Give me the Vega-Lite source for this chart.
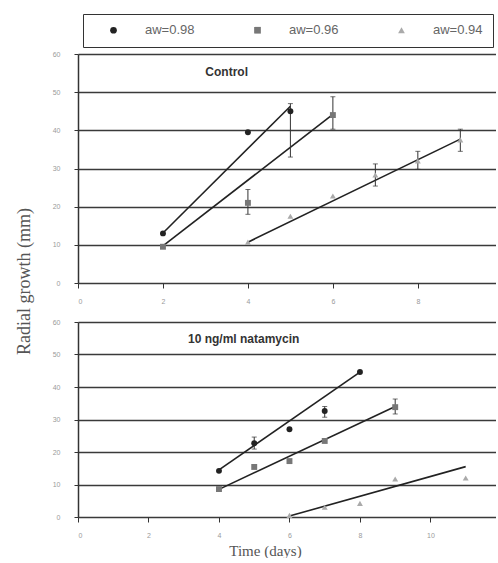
{
  "$schema": "https://vega.github.io/schema/vega-lite/v6.json",
  "padding": {"left": 15, "top": 13, "right": 0, "bottom": 0},
  "background": "white",
  "config": {
    "view": {"stroke": null},
    "font": "Liberation Sans",
    "axis": {
      "labelFontSize": 7,
      "labelColor": "#9a9a9a",
      "tickColor": "#333",
      "domainColor": "#333",
      "domainWidth": 1.5,
      "gridColor": "#3a3a3a",
      "gridWidth": 1.4,
      "gridOpacity": 1,
      "tickCount": 20
    },
    "legend": {
      "orient": "none",
      "legendX": 5,
      "legendY": -40,
      "direction": "horizontal",
      "strokeColor": "#333",
      "padding": 9.5,
      "title": null,
      "symbolSize": 45,
      "symbolOffset": 14.5,
      "labelOffset": 25,
      "labelFontSize": 13,
      "labelColor": "#666",
      "columnPadding": 41
    }
  },
  "datasets": {
    "fits": [
      {"panel": "Control", "aw": "0.98", "day": 2, "val": 13.1},
      {"panel": "Control", "aw": "0.98", "day": 5, "val": 46.3},
      {"panel": "Control", "aw": "0.96", "day": 2, "val": 9.7},
      {"panel": "Control", "aw": "0.96", "day": 6, "val": 44.2},
      {"panel": "Control", "aw": "0.94", "day": 4, "val": 10.7},
      {"panel": "Control", "aw": "0.94", "day": 9, "val": 37.7},
      {"panel": "Natamycin", "aw": "0.98", "day": 4, "val": 14.5},
      {"panel": "Natamycin", "aw": "0.98", "day": 8, "val": 44.6},
      {"panel": "Natamycin", "aw": "0.96", "day": 4, "val": 8.5},
      {"panel": "Natamycin", "aw": "0.96", "day": 9, "val": 34},
      {"panel": "Natamycin", "aw": "0.94", "day": 6, "val": 0.3},
      {"panel": "Natamycin", "aw": "0.94", "day": 11, "val": 15.5}
    ],
    "points": [
      {"panel": "Control", "aw": "0.98", "day": 2, "val": 13},
      {"panel": "Control", "aw": "0.98", "day": 4, "val": 39.5},
      {"panel": "Control", "aw": "0.98", "day": 5, "val": 45, "lo": 33, "hi": 47},
      {"panel": "Control", "aw": "0.96", "day": 2, "val": 9.5},
      {"panel": "Control", "aw": "0.96", "day": 4, "val": 21, "lo": 18, "hi": 24.5},
      {"panel": "Control", "aw": "0.96", "day": 6, "val": 44, "lo": 40.3, "hi": 48.8},
      {"panel": "Control", "aw": "0.94", "day": 4, "val": 10.7},
      {"panel": "Control", "aw": "0.94", "day": 5, "val": 17.5},
      {"panel": "Control", "aw": "0.94", "day": 6, "val": 22.8},
      {"panel": "Control", "aw": "0.94", "day": 7, "val": 28.3, "lo": 25.4, "hi": 31.2},
      {"panel": "Control", "aw": "0.94", "day": 8, "val": 32, "lo": 29.8, "hi": 34.5},
      {"panel": "Control", "aw": "0.94", "day": 9, "val": 37.5, "lo": 34.5, "hi": 40.3},
      {"panel": "Natamycin", "aw": "0.98", "day": 4, "val": 14.2},
      {"panel": "Natamycin", "aw": "0.98", "day": 5, "val": 22.7, "lo": 20.9, "hi": 24.6},
      {"panel": "Natamycin", "aw": "0.98", "day": 6, "val": 27},
      {"panel": "Natamycin", "aw": "0.98", "day": 7, "val": 32.6, "lo": 30.7, "hi": 34},
      {"panel": "Natamycin", "aw": "0.98", "day": 8, "val": 44.6},
      {"panel": "Natamycin", "aw": "0.96", "day": 4, "val": 8.6},
      {"panel": "Natamycin", "aw": "0.96", "day": 5, "val": 15.4},
      {"panel": "Natamycin", "aw": "0.96", "day": 6, "val": 17.2},
      {"panel": "Natamycin", "aw": "0.96", "day": 7, "val": 23.4},
      {"panel": "Natamycin", "aw": "0.96", "day": 9, "val": 33.8, "lo": 31.7, "hi": 36.3},
      {"panel": "Natamycin", "aw": "0.94", "day": 6, "val": 0.5},
      {"panel": "Natamycin", "aw": "0.94", "day": 7, "val": 3},
      {"panel": "Natamycin", "aw": "0.94", "day": 8, "val": 4.2},
      {"panel": "Natamycin", "aw": "0.94", "day": 9, "val": 11.7},
      {"panel": "Natamycin", "aw": "0.94", "day": 11, "val": 12}
    ]
  },
  "bounds": "flush",
  "spacing": 39,
  "vconcat": [
    {
      "width": 418,
      "height": 229,
      "layer": [
        {
          "data": {"name": "fits"},
          "transform": [{"filter": "datum.panel === 'Control'"}],
          "mark": {"type": "line", "color": "#222", "strokeWidth": 1.6},
          "encoding": {
            "x": {"field": "day", "type": "quantitative", "title": null, "scale": {"domain": [0, 9.84], "nice": false},
              "axis": {"values": [0, 2, 4, 6, 8, 10], "format": "d", "title": null, "grid": false, "domain": false, "tickSize": 5, "labelPadding": 9}},
            "y": {"field": "val", "type": "quantitative", "title": "Radial growth (mm)", "scale": {"domain": [0, 60], "nice": false},
              "axis": {"values": [0, 10, 20, 30, 40, 50, 60], "format": "d", "grid": true, "tickSize": 4, "labelPadding": 14,
                "title": "Radial growth (mm)", "titleFont": "Liberation Serif", "titleFontSize": 18, "titleFontWeight": "normal", "titleColor": "#555", "titleX": -45, "titleY": 227}},
            "detail": {"field": "aw"}
          }
        },
        {
          "data": {"name": "points"},
          "transform": [{"filter": "datum.panel === 'Control' && isValid(datum.lo)"}],
          "mark": {"type": "errorbar", "ticks": true, "color": "#333"},
          "encoding": {
            "x": {"field": "day", "type": "quantitative", "title": null,
              "axis": {"values": [0, 2, 4, 6, 8, 10], "format": "d", "title": null, "grid": false, "domain": false, "tickSize": 5, "labelPadding": 9}},
            "y": {"field": "lo", "type": "quantitative", "title": "Radial growth (mm)",
              "axis": {"values": [0, 10, 20, 30, 40, 50, 60], "format": "d", "grid": true, "tickSize": 4, "labelPadding": 14,
                "title": "Radial growth (mm)", "titleFont": "Liberation Serif", "titleFontSize": 18, "titleFontWeight": "normal", "titleColor": "#555", "titleX": -45, "titleY": 227}},
            "y2": {"field": "hi"}
          }
        },
        {
          "data": {"name": "points"},
          "transform": [{"filter": "datum.panel === 'Control'"}],
          "mark": {"type": "point", "filled": true, "size": 35, "opacity": 1},
          "encoding": {
            "x": {"field": "day", "type": "quantitative", "title": null,
              "axis": {"values": [0, 2, 4, 6, 8, 10], "format": "d", "title": null, "grid": false, "domain": false, "tickSize": 5, "labelPadding": 9}},
            "y": {"field": "val", "type": "quantitative", "title": "Radial growth (mm)",
              "axis": {"values": [0, 10, 20, 30, 40, 50, 60], "format": "d", "grid": true, "tickSize": 4, "labelPadding": 14,
                "title": "Radial growth (mm)", "titleFont": "Liberation Serif", "titleFontSize": 18, "titleFontWeight": "normal", "titleColor": "#555", "titleX": -45, "titleY": 227}},
            "shape": {"field": "aw", "type": "nominal", "scale": {"domain": ["0.98", "0.96", "0.94"], "range": ["circle", "square", "triangle-up"]},
              "legend": {"labelExpr": "'aw=' + datum.label"}},
            "color": {"field": "aw", "type": "nominal", "scale": {"domain": ["0.98", "0.96", "0.94"], "range": ["#222", "#777", "#aaa"]},
              "legend": {"labelExpr": "'aw=' + datum.label"}}
          }
        },
        {
          "data": {"values": [{"t": "Control"}]},
          "mark": {"type": "text", "fontWeight": "bold", "fontSize": 12, "color": "#333"},
          "encoding": {
            "x": {"datum": 3.5, "type": "quantitative"},
            "y": {"datum": 55.2, "type": "quantitative"},
            "text": {"field": "t"}
          }
        }
      ]
    },
    {
      "width": 418,
      "height": 195,
      "layer": [
        {
          "data": {"name": "fits"},
          "transform": [{"filter": "datum.panel === 'Natamycin'"}],
          "mark": {"type": "line", "color": "#222", "strokeWidth": 1.6},
          "encoding": {
            "x": {"field": "day", "type": "quantitative", "title": "Time (days)", "scale": {"domain": [0, 11.86], "nice": false},
              "axis": {"values": [0, 2, 4, 6, 8, 10, 12], "format": "d", "grid": false, "domain": false, "tickSize": 5, "labelPadding": 9,
                "title": "Time (days)", "titleFont": "Liberation Serif", "titleFontSize": 15, "titleFontWeight": "normal", "titleColor": "#555", "titleX": 187, "titlePadding": 5}},
            "y": {"field": "val", "type": "quantitative", "title": null, "scale": {"domain": [0, 60], "nice": false},
              "axis": {"values": [0, 10, 20, 30, 40, 50, 60], "format": "d", "grid": true, "tickSize": 4, "labelPadding": 14, "title": null}},
            "detail": {"field": "aw"}
          }
        },
        {
          "data": {"name": "points"},
          "transform": [{"filter": "datum.panel === 'Natamycin' && isValid(datum.lo)"}],
          "mark": {"type": "errorbar", "ticks": true, "color": "#333"},
          "encoding": {
            "x": {"field": "day", "type": "quantitative", "title": "Time (days)",
              "axis": {"values": [0, 2, 4, 6, 8, 10, 12], "format": "d", "grid": false, "domain": false, "tickSize": 5, "labelPadding": 9,
                "title": "Time (days)", "titleFont": "Liberation Serif", "titleFontSize": 15, "titleFontWeight": "normal", "titleColor": "#555", "titleX": 187, "titlePadding": 5}},
            "y": {"field": "lo", "type": "quantitative", "title": null,
              "axis": {"values": [0, 10, 20, 30, 40, 50, 60], "format": "d", "grid": true, "tickSize": 4, "labelPadding": 14, "title": null}},
            "y2": {"field": "hi"}
          }
        },
        {
          "data": {"name": "points"},
          "transform": [{"filter": "datum.panel === 'Natamycin'"}],
          "mark": {"type": "point", "filled": true, "size": 35, "opacity": 1},
          "encoding": {
            "x": {"field": "day", "type": "quantitative", "title": "Time (days)",
              "axis": {"values": [0, 2, 4, 6, 8, 10, 12], "format": "d", "grid": false, "domain": false, "tickSize": 5, "labelPadding": 9,
                "title": "Time (days)", "titleFont": "Liberation Serif", "titleFontSize": 15, "titleFontWeight": "normal", "titleColor": "#555", "titleX": 187, "titlePadding": 5}},
            "y": {"field": "val", "type": "quantitative", "title": null,
              "axis": {"values": [0, 10, 20, 30, 40, 50, 60], "format": "d", "grid": true, "tickSize": 4, "labelPadding": 14, "title": null}},
            "shape": {"field": "aw", "type": "nominal", "scale": {"domain": ["0.98", "0.96", "0.94"], "range": ["circle", "square", "triangle-up"]},
              "legend": {"labelExpr": "'aw=' + datum.label"}},
            "color": {"field": "aw", "type": "nominal", "scale": {"domain": ["0.98", "0.96", "0.94"], "range": ["#222", "#777", "#aaa"]},
              "legend": {"labelExpr": "'aw=' + datum.label"}}
          }
        },
        {
          "data": {"values": [{"t": "10 ng/ml natamycin"}]},
          "mark": {"type": "text", "fontWeight": "bold", "fontSize": 12, "color": "#333"},
          "encoding": {
            "x": {"datum": 4.7, "type": "quantitative"},
            "y": {"datum": 54.8, "type": "quantitative"},
            "text": {"field": "t"}
          }
        }
      ]
    }
  ]
}
